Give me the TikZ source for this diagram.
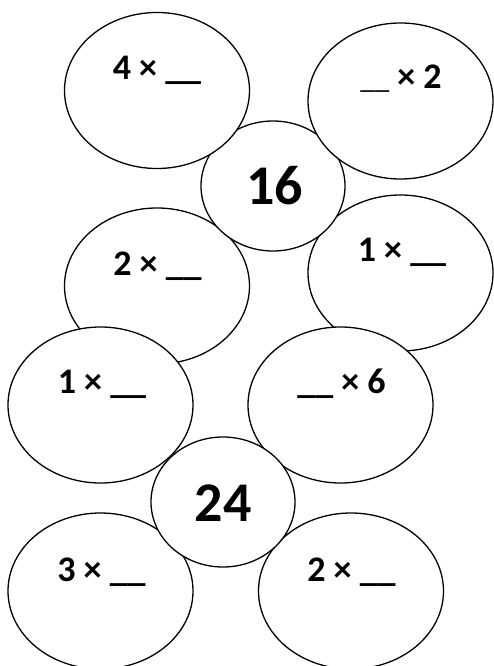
\documentclass[tikz,border=0pt]{standalone}
\usepackage{fontspec}
\setmainfont{Carlito}
\usetikzlibrary{shapes.geometric}
\tikzset{
  ell/.style={ellipse, draw=black, fill=white, line width=1.3pt, inner sep=0pt, outer sep=0pt},
  bigell/.style={ell, minimum width=185pt, minimum height=156pt},
  smallell/.style={ell, minimum width=144pt, minimum height=130pt},
  lab/.style={anchor=base, inner sep=0pt, font=\fontsize{36}{36}\selectfont\bfseries},
  num/.style={anchor=base, inner sep=0pt, font=\fontsize{56}{56}\selectfont\bfseries}
}
\begin{document}
\begin{tikzpicture}[x=1pt,y=-1pt]
\clip (0,0) rectangle (494,666);
\fill[white] (0,0) rectangle (494,666);
% shapes, back to front
\node[bigell] (e7) at (100.5,591) {};
\node[bigell] (e8) at (351,591) {};
\node[bigell] (e4) at (400.5,273) {};
\node[bigell] (e3) at (157,286) {};
\node[smallell] (e16) at (273,186) {};
\node[bigell] (e1) at (157,90.5) {};
\node[bigell] (e2) at (400.5,101) {};
\node[bigell] (e5) at (100.5,405) {};
\node[bigell] (e6) at (340.5,405) {};
\node[smallell] (e24) at (223,502) {};
% labels
\node[lab] (t1) at (157,80) {4 × \_\_};
\node[lab] (t2) at (401,89) {{\mdseries\fontsize{29}{29}\selectfont\_\_} × 2};
\node[num] (t16) at (274.5,204) {16};
\node[lab] (t3) at (157.5,275) {2 × \_\_};
\node[lab] (t4) at (402,261) {1 × \_\_};
\node[lab] (t5) at (102,393) {1 × \_\_};
\node[lab] (t6) at (341.5,393) {\_\_ × 6};
\node[num] (t24) at (223,521) {24};
\node[lab] (t7) at (101.5,581) {3 × \_\_};
\node[lab] (t8) at (351.5,581) {2 × \_\_};
\end{tikzpicture}
\end{document}
